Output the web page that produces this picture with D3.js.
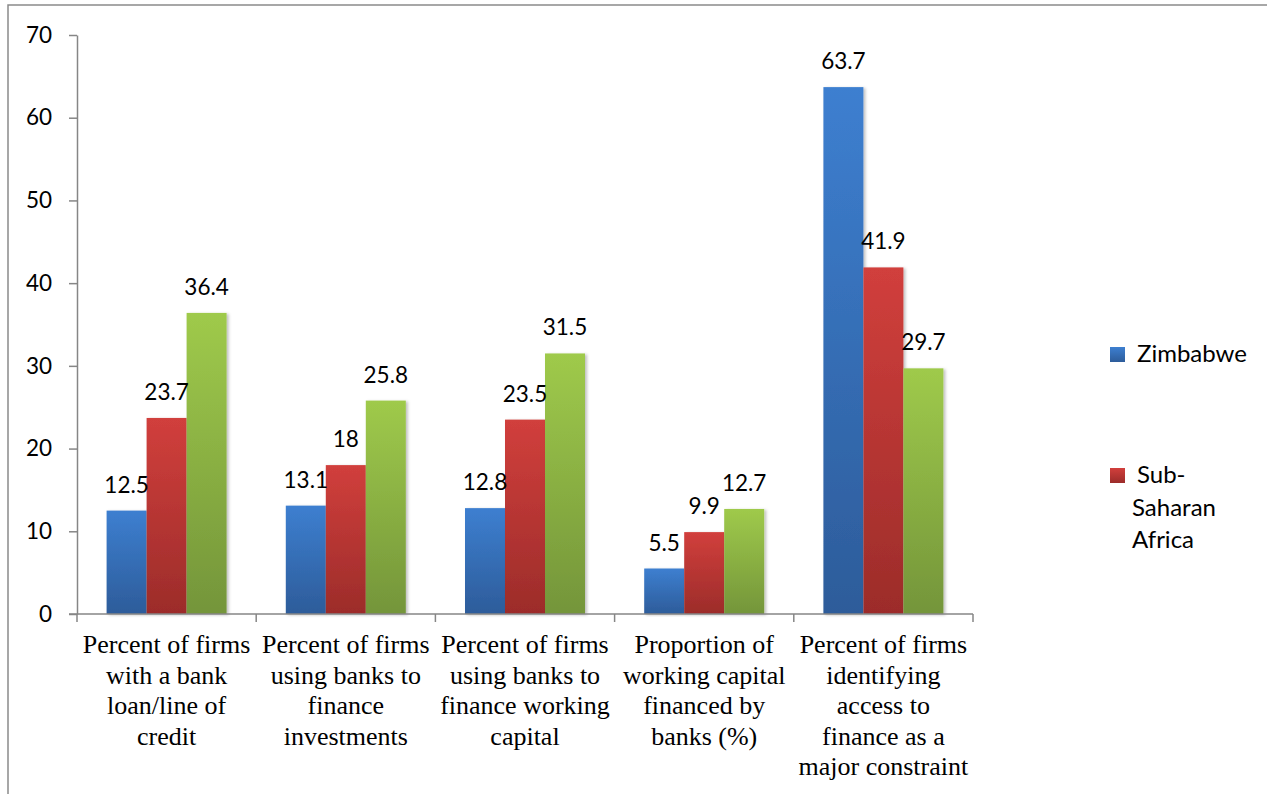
<!DOCTYPE html>
<html><head><meta charset="utf-8">
<script src="https://cdn.jsdelivr.net/npm/d3@7"></script>
<style>body{margin:0;background:#fff;} svg{display:block}</style>
</head><body><svg id="c" width="1267" height="794"></svg>
<script>
// ---- data ----
const categories = [
  "Percent of firms\nwith a bank\nloan/line of\ncredit",
  "Percent of firms\nusing banks to\nfinance\ninvestments",
  "Percent of firms\nusing banks to\nfinance working\ncapital",
  "Proportion of\nworking capital\nfinanced by\nbanks (%)",
  "Percent of firms\nidentifying\naccess to\nfinance as a\nmajor constraint"
];
const seriesNames = ["Zimbabwe", "Sub-Saharan Africa", "Third group"];
const zimbabwe = [12.5, 13.1, 12.8, 5.5, 63.7];
const subSaharanAfrica = [23.7, 18, 23.5, 9.9, 41.9];
const thirdGroup = [36.4, 25.8, 31.5, 12.7, 29.7];
const yTicks = [0, 10, 20, 30, 40, 50, 60, 70];
const legendLabels = [["Zimbabwe"], ["Sub-", "Saharan", "Africa"]];

// ---- styles ----
const colorsTop = ["#3d7fd0", "#d13f3c", "#9fca4b"];
const colorsBot = ["#2d5c9a", "#9c2c2a", "#74953a"];
const numFont = "Lato, 'Open Sans', sans-serif";
const catFont = "'Liberation Serif', 'Times New Roman', serif";

const svg = d3.select("#c");
const defs = svg.append("defs");
colorsTop.forEach((c, i) => {
  const g = defs.append("linearGradient").attr("id", "g" + i)
    .attr("x1", 0).attr("y1", 0).attr("x2", 0).attr("y2", 1);
  g.append("stop").attr("offset", "0%").attr("stop-color", c);
  g.append("stop").attr("offset", "100%").attr("stop-color", colorsBot[i]);
});
const f = defs.append("filter").attr("id", "sh").attr("x", "-20%").attr("y", "-5%").attr("width", "150%").attr("height", "110%");
f.append("feDropShadow").attr("dx", 2).attr("dy", 1).attr("stdDeviation", 1.5).attr("flood-color", "#000").attr("flood-opacity", 0.25);

// frame
svg.append("path").attr("d", "M8,794 V5 H1267").attr("fill", "none")
  .attr("stroke", "#8a8a8a").attr("stroke-width", 1.5);

const x0 = d3.scaleBand().domain(categories).range([77, 973]).paddingInner(0).paddingOuter(0);
const series = [zimbabwe, subSaharanAfrica, thirdGroup];
const x1 = d3.scaleBand().domain(seriesNames).range([0, x0.bandwidth()]).paddingInner(0).paddingOuter(0.74);
const y = d3.scaleLinear().domain([0, 70]).range([614, 35]);

// y axis
const yAxis = svg.append("g").attr("transform", "translate(77,0)")
  .call(d3.axisLeft(y).tickValues(yTicks).tickSize(8).tickPadding(17).tickSizeOuter(0));
yAxis.select(".domain").attr("stroke", "#868686").attr("stroke-width", 1.5);
yAxis.selectAll(".tick line").attr("stroke", "#868686").attr("stroke-width", 1.5);
yAxis.selectAll(".tick text").attr("font-family", numFont).attr("font-size", 22.5).attr("fill", "#000");

// bars
const groups = svg.append("g").selectAll("g").data(categories).join("g")
  .attr("transform", d => `translate(${x0(d)},0)`);
groups.each(function(cat, ci) {
  const g = d3.select(this);
  series.forEach((arr, si) => {
    const v = arr[ci];
    g.append("rect")
      .attr("x", x1(seriesNames[si]))
      .attr("y", y(v))
      .attr("width", x1.bandwidth())
      .attr("height", y(0) - y(v))
      .attr("fill", `url(#g${si})`)
      .attr("filter", "url(#sh)");
  });
  series.forEach((arr, si) => {
    const v = arr[ci];
    g.append("text")
      .attr("x", x1(seriesNames[si]) + x1.bandwidth() / 2)
      .attr("y", y(v) - 18)
      .attr("text-anchor", "middle")
      .attr("font-family", numFont).attr("font-size", 22.5).attr("fill", "#000")
      .text(v);
  });
});

// x axis
const xAxisG = svg.append("g");
xAxisG.append("line").attr("x1", 69).attr("x2", 973).attr("y1", y(0)).attr("y2", y(0))
  .attr("stroke", "#868686").attr("stroke-width", 1.5);
const bounds = categories.map(c => x0(c)).concat([x0(categories[categories.length - 1]) + x0.bandwidth()]);
xAxisG.selectAll("line.t").data(bounds).join("line").attr("class", "t")
  .attr("x1", d => d).attr("x2", d => d).attr("y1", y(0)).attr("y2", y(0) + 8)
  .attr("stroke", "#868686").attr("stroke-width", 1.5);
categories.forEach(c => {
  const t = svg.append("text").attr("text-anchor", "middle")
    .attr("font-family", catFont).attr("font-size", 26).attr("fill", "#000");
  c.split("\n").forEach((ln, i) => {
    t.append("tspan").attr("x", x0(c) + x0.bandwidth() / 2).attr("y", 653 + i * 30.5).text(ln);
  });
});

// legend
const legY = [347, 468];
legendLabels.forEach((lines, i) => {
  svg.append("rect").attr("x", 1110).attr("y", legY[i]).attr("width", 15).attr("height", 15)
    .attr("fill", `url(#g${i})`);
  lines.forEach((ln, j) => {
    svg.append("text").attr("x", j === 0 ? 1137 : 1132).attr("y", legY[i] + 15 + j * 32.5)
      .attr("font-family", numFont).attr("font-size", 24).attr("fill", "#000").text(ln);
  });
});
</script>
</body></html>
